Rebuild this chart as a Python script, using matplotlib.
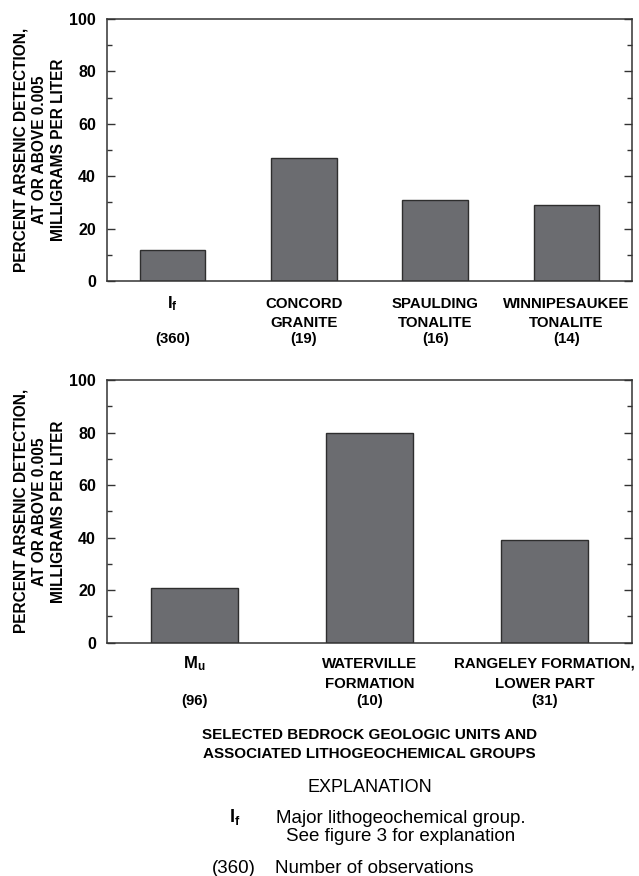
import matplotlib
matplotlib.use("Agg")
import matplotlib.pyplot as plt
import matplotlib.transforms as mtransforms
from matplotlib.ticker import MultipleLocator

# ---------------- data ----------------
top_names = [r"$\mathbf{I_f}$", "CONCORD\nGRANITE", "SPAULDING\nTONALITE", "WINNIPESAUKEE\nTONALITE"]
top_counts = ["(360)", "(19)", "(16)", "(14)"]
top_values = [12, 47, 31, 29]

bottom_names = [r"$\mathbf{M_u}$", "WATERVILLE\nFORMATION", "RANGELEY FORMATION,\nLOWER PART"]
bottom_counts = ["(96)", "(10)", "(31)"]
bottom_values = [21, 80, 39]

y_ticks = [0, 20, 40, 60, 80, 100]
y_label = "PERCENT ARSENIC DETECTION,\nAT OR ABOVE 0.005\nMILLIGRAMS PER LITER"
x_title = ["SELECTED BEDROCK GEOLOGIC UNITS AND", "ASSOCIATED LITHOGEOCHEMICAL GROUPS"]

# ---------------- style ----------------
plt.rcParams["font.family"] = ["Liberation Sans", "DejaVu Sans"]
plt.rcParams["mathtext.fontset"] = "custom"
plt.rcParams["mathtext.rm"] = "Liberation Sans"
plt.rcParams["mathtext.bf"] = "Liberation Sans:bold"
plt.rcParams["mathtext.it"] = "Liberation Sans:italic"

W, H = 639, 876
fig = plt.figure(figsize=(W / 100, H / 100), dpi=100)

BAR = "#6b6c70"
EDGE = "#2e2e2e"
SPINE = "#333333"
LABEL_FS = 10.8

def fy(p):
    return 1 - p / H

def fx(p):
    return p / W

def make_axes(top_px, bottom_px, names, counts, values, rows):
    left, right = 107, 632
    ax = fig.add_axes([fx(left), fy(bottom_px), fx(right) - fx(left), (bottom_px - top_px) / H])
    x = list(range(len(values)))
    ax.bar(x, values, width=0.5, color=BAR, edgecolor=EDGE, linewidth=1.0, zorder=2)
    ax.set_xlim(-0.5, len(values) - 0.5)
    ax.set_ylim(0, 100)
    ax.set_yticks(y_ticks)
    ax.yaxis.set_minor_locator(MultipleLocator(10))
    ax.set_xticks([])
    ax.tick_params(axis="y", which="both", direction="in", left=True, right=True,
                   labelright=False, color=SPINE, width=1.0)
    ax.tick_params(axis="y", which="major", length=6, pad=8, labelsize=11.5)
    ax.tick_params(axis="y", which="minor", length=3.5)
    for lab in ax.get_yticklabels():
        lab.set_fontweight("bold")
    for s in ax.spines.values():
        s.set_color(SPINE)
        s.set_linewidth(1.1)
    ax.set_ylabel(y_label, fontsize=11.2, fontweight="bold", linespacing=1.3)
    ax.yaxis.set_label_coords((66 - left) / (right - left), 0.5)

    trans = mtransforms.blended_transform_factory(ax.transData, fig.transFigure)
    r1, r2, r3 = rows
    for i, (nm, ct) in enumerate(zip(names, counts)):
        lines = nm.split("\n")
        fs = 12 if nm.startswith("$") else LABEL_FS
        ax.text(i, fy(r1), lines[0], transform=trans, ha="center", va="baseline",
                fontsize=fs, fontweight="bold")
        if len(lines) > 1:
            ax.text(i, fy(r2), lines[1], transform=trans, ha="center", va="baseline",
                    fontsize=LABEL_FS, fontweight="bold")
        ax.text(i, fy(r3), ct, transform=trans, ha="center", va="baseline",
                fontsize=LABEL_FS, fontweight="bold")
    return ax

ax1 = make_axes(19, 281, top_names, top_counts, top_values, (308, 327, 343))
ax2 = make_axes(380, 642.7, bottom_names, bottom_counts, bottom_values, (668, 688, 705))

# x-axis title
cx = fx(369.5)
fig.text(cx, fy(739), x_title[0], ha="center", va="baseline", fontsize=11, fontweight="bold")
fig.text(cx, fy(758), x_title[1], ha="center", va="baseline", fontsize=11, fontweight="bold")

# explanation
fig.text(cx, fy(792), "EXPLANATION", ha="center", va="baseline", fontsize=13)
fig.text(fx(229), fy(822), r"$\mathbf{I_f}$", ha="left", va="baseline", fontsize=13)
fig.text(fx(401), fy(823), "Major lithogeochemical group.", ha="center", va="baseline", fontsize=13.5)
fig.text(fx(401), fy(841), "See figure 3 for explanation", ha="center", va="baseline", fontsize=13.5)
fig.text(fx(234), fy(873), "(360)", ha="center", va="baseline", fontsize=13.5)
fig.text(fx(275), fy(873), "Number of observations", ha="left", va="baseline", fontsize=13.5)

fig.savefig("out.png", dpi=100)
